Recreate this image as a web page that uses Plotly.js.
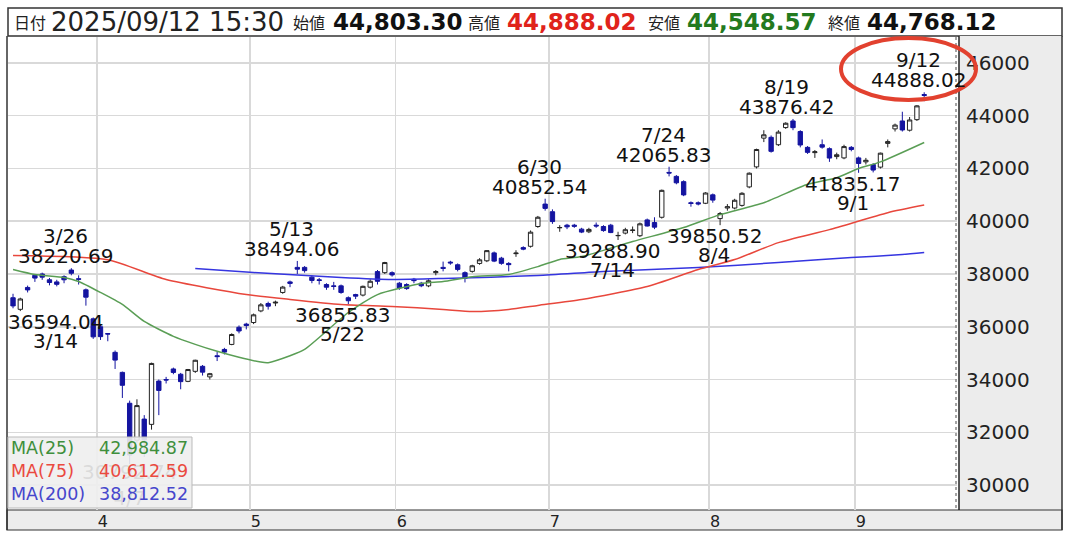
<!DOCTYPE html>
<html><head><meta charset="utf-8">
<script src="https://cdn.plot.ly/plotly-3.0.1.min.js"></script>
<style>html,body{margin:0;padding:0;background:#fff}#chart{width:1071px;height:533px}</style>
</head><body><div id="chart"></div>
<script>
// ---------- DATA ----------
const dates = ['3/13','3/14','3/17','3/18','3/19','3/21','3/24','3/25','3/26','3/27','3/28','3/31',
'4/1','4/2','4/3','4/4','4/7','4/8','4/9','4/10','4/11','4/14','4/15','4/16','4/17','4/18','4/21','4/22','4/23','4/24','4/25','4/28','4/30',
'5/1','5/2','5/7','5/8','5/9','5/12','5/13','5/14','5/15','5/16','5/19','5/20','5/21','5/22','5/23','5/26','5/27','5/28','5/29','5/30',
'6/2','6/3','6/4','6/5','6/6','6/9','6/10','6/11','6/12','6/13','6/16','6/17','6/18','6/19','6/20','6/23','6/24','6/25','6/26','6/27','6/30',
'7/1','7/2','7/3','7/4','7/7','7/8','7/9','7/10','7/11','7/14','7/15','7/16','7/17','7/18','7/22','7/23','7/24','7/25','7/28','7/29','7/30','7/31',
'8/1','8/4','8/5','8/6','8/7','8/8','8/12','8/13','8/14','8/15','8/18','8/19','8/20','8/21','8/22','8/25','8/26','8/27','8/28','8/29',
'9/1','9/2','9/3','9/4','9/5','9/8','9/9','9/10','9/11','9/12'];

const openP = [37100,36660,37490,37950,38000,37780,37700,37900,38150,37820,37400,36300,
36000,35740,35030,34270,33100,31700,32500,32300,33940,34000,34400,34200,33930,34310,34500,34100,34900,35140,35330,35980,36100,
36160,36600,36880,36900,37300,37700,38250,38250,37880,37780,37600,37550,37550,37100,37220,37200,37500,38090,38050,38050,
37650,37600,37800,37650,37550,38050,38250,38450,38350,38050,38100,38400,38500,38800,38600,38400,38770,39000,39050,39800,40650,
40360,39750,39850,39850,39700,39600,39850,39800,39850,39450,39550,39650,39450,40050,39950,40150,41850,41700,41500,40700,40700,40680,
41000,40100,40500,40500,40600,41300,42060,43150,43180,42900,43550,43800,43400,42800,42600,42900,42750,42450,42400,42800,
42400,42250,42150,42050,42950,43500,43800,43450,43850,44803.30];

const highP = [37250,37100,37560,37980,38050,37850,37780,37950,38220.69,37950,37450,36350,
36100,35760,35100,34300,33200,33250,32650,34639,34000,34100,34450,34250,34400,34750,34550,34250,35050,35200,35750,36050,36150,
36500,36900,36950,36990,37550,37750,38494.06,38300,37950,37850,37650,37700,37600,37150,37250,37560,37800,38150,38460,38100,
37700,37650,37850,37700,37800,38150,38470,38500,38400,38100,38350,38600,38900,38850,38650,38450,38900,39050,39650,40200,40852.54,
40450,39850,39900,39900,39750,39750,39950,39850,39900,39600,39750,39800,39950,40100,40150,41200,42065.83,41750,41550,40750,40750,41100,
41050,40350,40650,40850,41100,41850,42750,43450,43250,43450,43750,43876.42,43450,42850,42700,43100,42800,42600,42900,42850,
42450,42400,42200,42600,43100,43700,44150,43950,44400,44888.02];

const lowP = [36700,36594.04,37300,37700,37780,37570,37530,37650,37950,37600,36800,35541,
35500,35450,34400,33300,30792.74,31600,31064,32100,32650,33850,34200,33630,33900,34250,34150,34000,34700,34950,35300,35750,35900,
36100,36550,36650,36780,37250,37500,38000,38050,37650,37600,37400,37400,37250,36855.83,37050,37150,37450,37600,38000,37900,
37400,37400,37650,37500,37500,37950,38100,38350,38100,37680,38050,38350,38450,38450,38350,38100,38650,38900,39000,39750,40400,
39900,39600,39700,39750,39550,39550,39750,39600,39550,39288.90,39500,39550,39400,39800,39700,40100,41700,41400,40950,40550,40600,40650,
40700,39850.52,40400,40450,40550,41250,42000,43000,42600,42850,43500,43450,42800,42550,42400,42750,42250,42350,42350,42650,
41835.17,42150,41850,42000,42800,43400,43400,43400,43800,44548.57];

const closeP = [36790,37053,37396,37845,37880,37677,37608,37780,38027,37800,37120,35617,
35624,35725,34736,33781,31136.58,33012,31714,34609,33586,33982,34268,33920,34378,34730,34280,34221,34869,35039,35706,35840,36045,
36452,36831,36780,36929,37503,37644,38183,38128,37756,37754,37499,37529,37299,36986,37160,37532,37724,37722,38433,37965,
37471,37447,37747,37554,37742,38089,38212,38421,38173,37834,38311,38537,38885,38488,38403,38354,38791,38942,39585,40151,40487,
39986,39762,39786,39811,39588,39689,39821,39646,39570,39460,39678,39663,39901,39819,39775,41171,41826,41456,40998,40675,40655,41070,
40800,40291,40550,40795,41059,41820,42718,43275,42649,43378,43714,43546,42889,42610,42633,42808,42394,42520,42829,42718,
42189,42310,41939,42580,43019,43644,43459,43838,44373,44768.12];

// moving averages
const ma25Dates  = ['3/13','3/18','3/25','3/27','4/1','4/4','4/9','4/15','4/18','4/23','4/28','5/2','5/7','5/12','5/14','5/22','5/28','6/5','6/10','6/16','6/23','6/27','7/2','7/7','7/16','7/28','8/4','8/13','8/21','8/27','9/1','9/4','9/12'];
const ma25Values = [38170,37980,37870,37715,37300,36845,36200,35635,35333,35068,34841,34660,34640,34900,35140,36540,37220,37640,37715,37900,37980,38280,38550,38660,39230,39760,40250,40700,41400,41650,42000,42250,42984.87];
const ma75Dates  = ['3/13','4/2','4/14','4/30','5/12','5/21','5/30','6/10','6/16','6/23','6/27','7/7','7/18','7/30','8/6','8/15','8/26','9/5','9/12'];
const ma75Values = [38700,38540,37790,37224,37035,36845,36770,36656,36580,36656,36808,37035,37526,38169,38547,39190,39682,40325,40612.59];
const ma200Dates  = ['4/18','5/1','5/21','5/30','6/10','6/27','7/10','7/30','8/15','8/29','9/9','9/12'];
const ma200Values = [38207,38056,37866,37791,37829,37942,38093,38245,38434,38623,38736,38812.52];

// high / low callouts
const markDates = ['3/26','3/14','4/7','5/13','5/22','6/30','7/14','7/24','8/4','8/19','9/1','9/12'];
const markKinds = ['high','low','low','high','low','high','low','high','low','high','low','high'];

const headerDate = '2025/09/12 15:30';

// ---------- GEOMETRY / STYLE ----------
const Lp = 8, Rp = 957, Tp = 37, Bp = 510;
const px = x => (x - Lp) / (Rp - Lp);
const py = y => (Bp - y) / (Bp - Tp);
const FONT = 'DejaVu Sans, Noto Sans CJK JP, sans-serif';
const JFONT = 'Noto Sans CJK JP, DejaVu Sans, sans-serif';
const labelShift = {'3/14': 35};
const LBL = 20;

const xs = dates.map((d, i) => i);
const idx = d => dates.indexOf(d);
const fmt = v => v.toLocaleString('en-US', {minimumFractionDigits: 2, maximumFractionDigits: 2});

// month ticks at boundaries
const tickvals = [], ticktext = [];
for (let i = 1; i < dates.length; i++) {
  if (dates[i].split('/')[0] !== dates[i-1].split('/')[0]) {
    tickvals.push(i - 0.5);
    ticktext.push(dates[i].split('/')[0]);
  }
}

const traces = [
  {type: 'scatter', mode: 'lines', x: ma200Dates.map(idx), y: ma200Values,
   line: {color: '#3535e0', width: 1.5, shape: 'spline', smoothing: 0.6}, hoverinfo: 'skip'},
  {type: 'scatter', mode: 'lines', x: ma75Dates.map(idx), y: ma75Values,
   line: {color: '#e8473c', width: 1.5, shape: 'spline', smoothing: 0.6}, hoverinfo: 'skip'},
  {type: 'scatter', mode: 'lines', x: ma25Dates.map(idx), y: ma25Values,
   line: {color: '#5a9e55', width: 1.5, shape: 'spline', smoothing: 0.6}, hoverinfo: 'skip'},
  {type: 'candlestick', x: xs, open: openP, high: highP, low: lowP, close: closeP,
   increasing: {line: {color: '#222222', width: 1}, fillcolor: '#ffffff'},
   decreasing: {line: {color: '#1414a0', width: 1}, fillcolor: '#1414a0'},
   whiskerwidth: 0, hoverinfo: 'skip'}
];

const annotations = [];
// callouts
markDates.forEach((d, k) => {
  const i = idx(d);
  const isHigh = markKinds[k] === 'high';
  const v = isHigh ? highP[i] : lowP[i];
  const xsft = (labelShift[d] !== undefined) ? labelShift[d] : -6;
  if (d === '4/7') {
    traces.push({type: 'scatter', mode: 'text', x: [i], y: [v], text: [v.toFixed(2) + '<br>' + d],
      textposition: 'bottom center', textfont: {family: FONT, size: LBL, color: '#222'},
      cliponaxis: true, hoverinfo: 'skip'});
    return;
  }
  annotations.push({x: i, y: v, xref: 'x', yref: 'y', showarrow: false, text: v.toFixed(2),
    xshift: xsft, yshift: isHigh ? 12 : -11, yanchor: 'middle',
    font: {family: FONT, size: LBL, color: '#111'}});
  annotations.push({x: i, y: v, xref: 'x', yref: 'y', showarrow: false, text: d,
    xshift: xsft, yshift: isHigh ? 32 : -30, yanchor: 'middle',
    font: {family: FONT, size: LBL, color: '#111'}});
});

// header
const last = dates.length - 1;
const hdr = [
  [12, '日付', 16, '#222', JFONT, false],
  [49, headerDate, 26, '#222', FONT, false],
  [291, '始値', 16, '#222', JFONT, false],
  [331, fmt(openP[last]), 23, '#111', FONT, true],
  [466, '高値', 16, '#222', JFONT, false],
  [505, fmt(highP[last]), 23, '#e0231b', FONT, true],
  [646, '安値', 16, '#222', JFONT, false],
  [685, fmt(lowP[last]), 23, '#237a1e', FONT, true],
  [826, '終値', 16, '#222', JFONT, false],
  [865, fmt(closeP[last]), 23, '#111', FONT, true]
];
hdr.forEach(h => annotations.push({xref: 'paper', yref: 'paper', x: px(h[0]), y: py(22),
  xanchor: 'left', yanchor: 'middle', showarrow: false,
  text: h[5] ? '<b>' + h[1] + '</b>' : h[1], font: {family: h[4], size: h[2], color: h[3]}}));

// MA legend box
const legRows = [
  ['MA(25)', ma25Values[ma25Values.length-1], '#3f8f3c', 448],
  ['MA(75)', ma75Values[ma75Values.length-1], '#ea4a40', 471],
  ['MA(200)', ma200Values[ma200Values.length-1], '#4646cc', 494]
];
legRows.forEach(r => {
  annotations.push({xref: 'paper', yref: 'paper', x: px(9), y: py(r[3]), xanchor: 'left', yanchor: 'middle',
    showarrow: false, text: r[0], font: {family: FONT, size: 17.5, color: r[2]}});
  annotations.push({xref: 'paper', yref: 'paper', x: px(190), y: py(r[3]), xanchor: 'right', yanchor: 'middle',
    showarrow: false, text: fmt(r[1]), font: {family: FONT, size: 17.5, color: r[2]}});
});

const shapes = [
  {type: 'rect', xref: 'paper', yref: 'paper', x0: px(8), x1: px(1062), y0: py(36), y1: py(8),
   fillcolor: '#ffffff', line: {color: '#333', width: 1.5}, layer: 'below'},
  {type: 'rect', xref: 'paper', yref: 'paper', x0: px(959), x1: px(1062), y0: py(510), y1: py(36),
   fillcolor: '#ececec', line: {width: 0}, layer: 'below'},
  {type: 'rect', xref: 'paper', yref: 'paper', x0: px(7), x1: px(1062), y0: py(530), y1: py(510),
   fillcolor: '#ececec', line: {color: '#333', width: 1.2}, layer: 'below'},
  {type: 'line', xref: 'paper', yref: 'paper', x0: px(7), x1: px(7), y0: py(36), y1: py(530), line: {color: '#333', width: 1.5}},
  {type: 'line', xref: 'paper', yref: 'paper', x0: px(1062), x1: px(1062), y0: py(36), y1: py(530), line: {color: '#333', width: 1.5}},
  {type: 'line', xref: 'paper', yref: 'paper', x0: px(959), x1: px(959), y0: py(36), y1: py(510), line: {color: '#222', width: 1.5}},
  {type: 'line', xref: 'paper', yref: 'paper', x0: px(956), x1: px(956), y0: py(37), y1: py(510), line: {color: '#888', width: 1.5, dash: 'dot'}},
  {type: 'rect', xref: 'paper', yref: 'paper', x0: px(8), x1: px(192), y0: py(508), y1: py(437),
   fillcolor: 'rgba(238,238,238,0.9)', line: {color: '#bbbbbb', width: 1}, layer: 'above'},
  {type: 'circle', xref: 'paper', yref: 'paper', x0: px(841), x1: px(976), y0: py(100), y1: py(38),
   line: {color: '#e2412f', width: 4}, layer: 'above'}
];

const layout = {
  width: 1071, height: 533,
  margin: {l: Lp, r: 1071 - Rp, t: Tp, b: 533 - Bp, pad: 0},
  paper_bgcolor: '#ffffff', plot_bgcolor: '#ffffff',
  showlegend: false, hovermode: false, boxgap: 0.15,
  font: {family: FONT, color: '#222'},
  xaxis: {range: [-0.69, 129.5], tickmode: 'array', tickvals: tickvals, ticktext: ticktext,
    showgrid: true, gridcolor: '#d9d9d9', gridwidth: 1.5, zeroline: false, showline: false,
    ticks: '', tickfont: {family: FONT, size: 16, color: '#222'}, ticklabelshift: 6, ticklabelstandoff: 0,
    rangeslider: {visible: false}, fixedrange: true},
  yaxis: {side: 'right', range: [29054, 46983], tickmode: 'array',
    tickvals: [30000,32000,34000,36000,38000,40000,42000,44000,46000],
    ticktext: ['30000','32000','34000','36000','38000','40000','42000','44000','46000'],
    showgrid: true, gridcolor: '#d9d9d9', gridwidth: 1.5, zeroline: false, showline: false,
    ticks: '', tickfont: {family: FONT, size: 20, color: '#222'}, ticklabelstandoff: 8, fixedrange: true},
  shapes: shapes,
  annotations: annotations
};

Plotly.newPlot('chart', traces, layout, {displayModeBar: false, staticPlot: true});
</script>
</body></html>
